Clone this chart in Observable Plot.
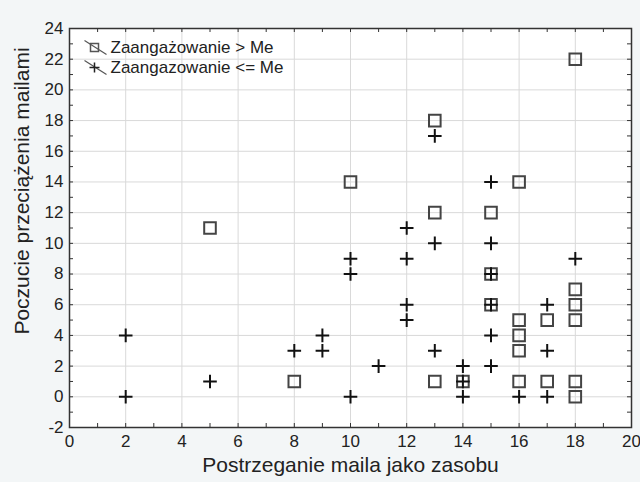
<!DOCTYPE html>
<html><head><meta charset="utf-8">
<script src="https://cdn.jsdelivr.net/npm/d3@7"></script>
<script src="https://cdn.jsdelivr.net/npm/@observablehq/plot@0.6"></script>
<style>
html,body{margin:0;padding:0;background:#f3f6f7;}
#chart{width:640px;height:482px;}
</style></head><body><div id="chart"></div>
<script>
const seriesHigh = "Zaangażowanie > Me";
const seriesLow = "Zaangazowanie <= Me";
const xTitle = "Postrzeganie maila jako zasobu";
const yTitle = "Poczucie przeciążenia mailami";
const highX = [5,8,10,13,13,13,14,15,15,15,16,16,16,16,16,17,17,18,18,18,18,18,18];
const highY = [11,1,14,18,12,1,1,12,8,6,14,5,4,3,1,5,1,22,7,6,5,1,0];
const lowX = [2,2,5,8,9,9,10,10,10,11,12,12,12,12,13,13,13,14,14,14,15,15,15,15,15,15,16,17,17,17,18];
const lowY = [4,0,1,3,4,3,9,8,0,2,11,9,6,5,17,10,3,2,1,0,14,10,8,6,4,2,0,6,3,0,9];
const xTicks = [0,2,4,6,8,10,12,14,16,18,20];
const yTicks = [-2,0,2,4,6,8,10,12,14,16,18,20,22,24];
const xMinor = d3.range(0,21,1);
const yMinor = d3.range(-2,25,1);

const high = highX.map((x,i)=>({x, y: highY[i]}));
const low = lowX.map((x,i)=>({x, y: lowY[i]}));

const squareSym = {draw(ctx){ const h=5.8; ctx.rect(-h,-h,2*h,2*h); }};
const crossSym = {draw(ctx){ const r=6.8; ctx.moveTo(-r,0); ctx.lineTo(r,0); ctx.moveTo(0,-r); ctx.lineTo(0,r); }};
const lgSquare = {draw(ctx){ const h=4; ctx.rect(-h,-h,2*h,2*h); }};
const lgCross = {draw(ctx){ const r=5; ctx.moveTo(-r,0); ctx.lineTo(r,0); ctx.moveTo(0,-r); ctx.lineTo(0,r); }};
const lgLine = {draw(ctx){ ctx.moveTo(-10,-7); ctx.lineTo(12,7); }};

const W = 640, H = 482, mL = 69, mR = 9, mT = 28, mB = 55;
const fw = W - mL - mR, fh = H - mT - mB;
const tk = 4;

const chart = Plot.plot({
  width: W, height: H,
  marginLeft: mL, marginRight: mR, marginTop: mT, marginBottom: mB,
  x: {domain: [0,20], label: null},
  y: {domain: [-2,24], label: null},
  style: {fontFamily: "'Liberation Sans', Arial, sans-serif", background: "transparent", color: "#222"},
  marks: [
    Plot.frame({fill: "white", stroke: null}),
    Plot.gridX(xTicks, {stroke: "#d9d9d9", strokeOpacity: 1}),
    Plot.gridY(yTicks, {stroke: "#d9d9d9", strokeOpacity: 1}),
    Plot.tickX(xMinor, {x: d=>d, insetTop: fh - tk, stroke: "#333"}),
    Plot.tickX(xMinor, {x: d=>d, insetBottom: fh - tk, stroke: "#333"}),
    Plot.tickY(yMinor, {y: d=>d, insetRight: fw - tk, stroke: "#333"}),
    Plot.tickY(yMinor, {y: d=>d, insetLeft: fw - tk, stroke: "#333"}),
    Plot.axisX(xTicks, {tickSize: 0, tickPadding: 7, fontSize: 17, fill: "#222", tickFormat: d => String(d), label: null}),
    Plot.axisY(yTicks, {tickSize: 0, tickPadding: 6, fontSize: 17, fill: "#222", tickFormat: d => String(d), label: null}),
    Plot.frame({stroke: "#333", strokeWidth: 1.5}),
    Plot.dot(high, {x: "x", y: "y", symbol: squareSym, fill: "none", stroke: "#444", strokeWidth: 2}),
    Plot.dot(low, {x: "x", y: "y", symbol: crossSym, fill: "none", stroke: "#111", strokeWidth: 2}),
    // legend
    Plot.dot([seriesHigh], {frameAnchor: "top-left", dx: 25, dy: 19, symbol: lgLine, fill: "none", stroke: "#555", strokeWidth: 1.2}),
    Plot.dot([seriesHigh], {frameAnchor: "top-left", dx: 25, dy: 19, symbol: lgSquare, fill: "none", stroke: "#555", strokeWidth: 1.5}),
    Plot.dot([seriesLow], {frameAnchor: "top-left", dx: 25, dy: 39, symbol: lgLine, fill: "none", stroke: "#555", strokeWidth: 1.2}),
    Plot.dot([seriesLow], {frameAnchor: "top-left", dx: 25, dy: 39, symbol: lgCross, fill: "none", stroke: "#222", strokeWidth: 1.5}),
    Plot.text([seriesHigh], {frameAnchor: "top-left", dx: 41, dy: 19, text: d=>d, textAnchor: "start", lineAnchor: "middle", fontSize: 17, fill: "#222"}),
    Plot.text([seriesLow], {frameAnchor: "top-left", dx: 41, dy: 39, text: d=>d, textAnchor: "start", lineAnchor: "middle", fontSize: 17, fill: "#222"}),
    // axis titles
    Plot.text([xTitle], {frameAnchor: "bottom", dy: 38, text: d=>d, textAnchor: "middle", lineAnchor: "middle", fontSize: 21, fill: "#222"}),
    Plot.text([yTitle], {frameAnchor: "left", dx: -47, dy: -37, rotate: -90, text: d=>d, textAnchor: "middle", lineAnchor: "middle", fontSize: 21, fill: "#222"})
  ]
});
document.getElementById("chart").appendChild(chart);
</script>
</body></html>
